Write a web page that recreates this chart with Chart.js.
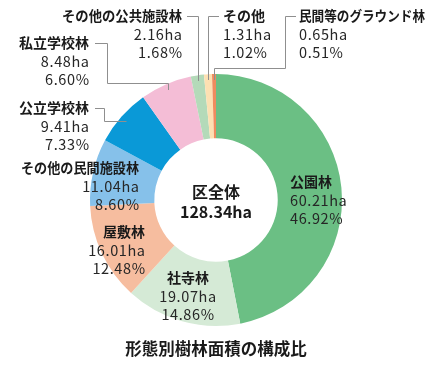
<!DOCTYPE html>
<html lang="ja">
<head>
<meta charset="utf-8">
<title>形態別樹林面積の構成比</title>
<script src="https://cdn.jsdelivr.net/npm/chart.js@4/dist/chart.umd.min.js"></script>
<style>
    html, body { margin: 0; padding: 0; background: #ffffff; }
    #grafico { display: block; }
</style>
</head>
<body>
<canvas id="grafico" width="432" height="373"></canvas>
<script>
const categorias = ['公園林', '社寺林', '屋敷林', 'その他の民間施設林', '公立学校林', '私立学校林', 'その他の公共施設林', 'その他', '民間等のグラウンド林'];
const areas = [60.21, 19.07, 16.01, 11.04, 9.41, 8.48, 2.16, 1.31, 0.65];
const percentuais = ['46.92', '14.86', '12.48', '8.60', '7.33', '6.60', '1.68', '1.02', '0.51'];
const totalArea = '128.34';
const cores = ['#6bbf84', '#d5ead6', '#f6bd9f', '#86c1ea', '#0a99d7', '#f4bdd6', '#b4dab9', '#fde0b2', '#ef8b5e'];

const FONTE = '"Noto Sans CJK JP", "Noto Sans", sans-serif';

// posicao dos rotulos (layout), largura maxima do nome e forma da linha guia
const rotulos = [
    { x: 290, y: 182, align: 'left' },
    { x: 188, y: 278, align: 'center' },
    { x: 145, y: 232, align: 'right' },
    { x: 139, y: 168, align: 'right', larg: 118 },
    { x: 89, y: 108, align: 'right', guia: { tipo: 'hvh', sx: 95, ex: 104 } },
    { x: 89, y: 43, align: 'right', guia: { tipo: 'hvhv', sx: 95, ex: 107, ey: 83 } },
    { x: 182, y: 16, align: 'right', larg: 120, guia: { tipo: 'hv', sx: 187 } },
    { x: 223, y: 16, align: 'left', guia: { tipo: 'hv', sx: 219 } },
    { x: 299, y: 16, align: 'left', larg: 126, guia: { tipo: 'hvhv', sx: 296, ex: 285, ey: 68 } }
];

const pluginRotulos = {
    id: 'rotulos',
    afterDraw(chart) {
        const ctx = chart.ctx;
        const arcos = chart.getDatasetMeta(0).data;
        ctx.save();

        // linhas guia
        ctx.strokeStyle = '#8f8f8f';
        ctx.lineWidth = 1;
        rotulos.forEach((r, i) => {
            if (!r.guia) return;
            const a = arcos[i];
            const meio = (a.startAngle + a.endAngle) / 2;
            const raio = a.outerRadius - 6;
            const px = Math.round(a.x + Math.cos(meio) * raio) + 0.5;
            const py = Math.round(a.y + Math.sin(meio) * raio);
            const g = r.guia;
            const y0 = r.y + 0.5;
            ctx.beginPath();
            ctx.moveTo(g.sx, y0);
            if (g.tipo === 'hv') {
                ctx.lineTo(px, y0);
                ctx.lineTo(px, py);
            } else if (g.tipo === 'hvh') {
                ctx.lineTo(g.ex + 0.5, y0);
                ctx.lineTo(g.ex + 0.5, py + 0.5);
                ctx.lineTo(px, py + 0.5);
            } else {
                ctx.lineTo(g.ex + 0.5, y0);
                ctx.lineTo(g.ex + 0.5, g.ey + 0.5);
                ctx.lineTo(px, g.ey + 0.5);
                ctx.lineTo(px, py);
            }
            ctx.stroke();
        });

        // textos
        ctx.textBaseline = 'middle';
        rotulos.forEach((r, i) => {
            ctx.textAlign = r.align;
            ctx.fillStyle = '#1a1a1a';
            ctx.font = 'bold 14px ' + FONTE;
            ctx.letterSpacing = '0px';
            if (r.larg) {
                ctx.fillText(categorias[i], r.x, r.y, r.larg);
            } else {
                ctx.fillText(categorias[i], r.x, r.y);
            }
            // espaco extra no fim quando alinhado a direita
            const vx = r.align === 'right' ? r.x + 0.6 : r.x;
            ctx.fillStyle = '#262626';
            ctx.font = '14.5px ' + FONTE;
            ctx.letterSpacing = '0.6px';
            ctx.fillText(areas[i].toFixed(2) + 'ha', vx, r.y + 18);
            ctx.fillText(percentuais[i] + '%', vx, r.y + 36);
        });
        ctx.letterSpacing = '0px';

        // centro
        const cx = arcos[0].x;
        const cy = arcos[0].y;
        ctx.textAlign = 'center';
        ctx.fillStyle = '#1a1a1a';
        ctx.font = 'bold 16px ' + FONTE;
        ctx.fillText('区全体', cx, cy - 8);
        ctx.fillText(totalArea + 'ha', cx, cy + 12);

        // titulo
        ctx.font = 'bold 16.5px ' + FONTE;
        ctx.fillText('形態別樹林面積の構成比', cx, 349);
        ctx.restore();
    }
};

new Chart(document.getElementById('grafico'), {
    type: 'doughnut',
    data: {
        labels: categorias,
        datasets: [{
            data: areas,
            backgroundColor: cores,
            borderWidth: 0,
            hoverOffset: 0
        }]
    },
    options: {
        responsive: false,
        animation: false,
        devicePixelRatio: 1,
        cutout: '49%',
        layout: { padding: { top: 74, bottom: 47, left: 90, right: 90 } },
        plugins: {
            legend: { display: false },
            tooltip: { enabled: false }
        }
    },
    plugins: [pluginRotulos]
});
</script>
</body>
</html>
